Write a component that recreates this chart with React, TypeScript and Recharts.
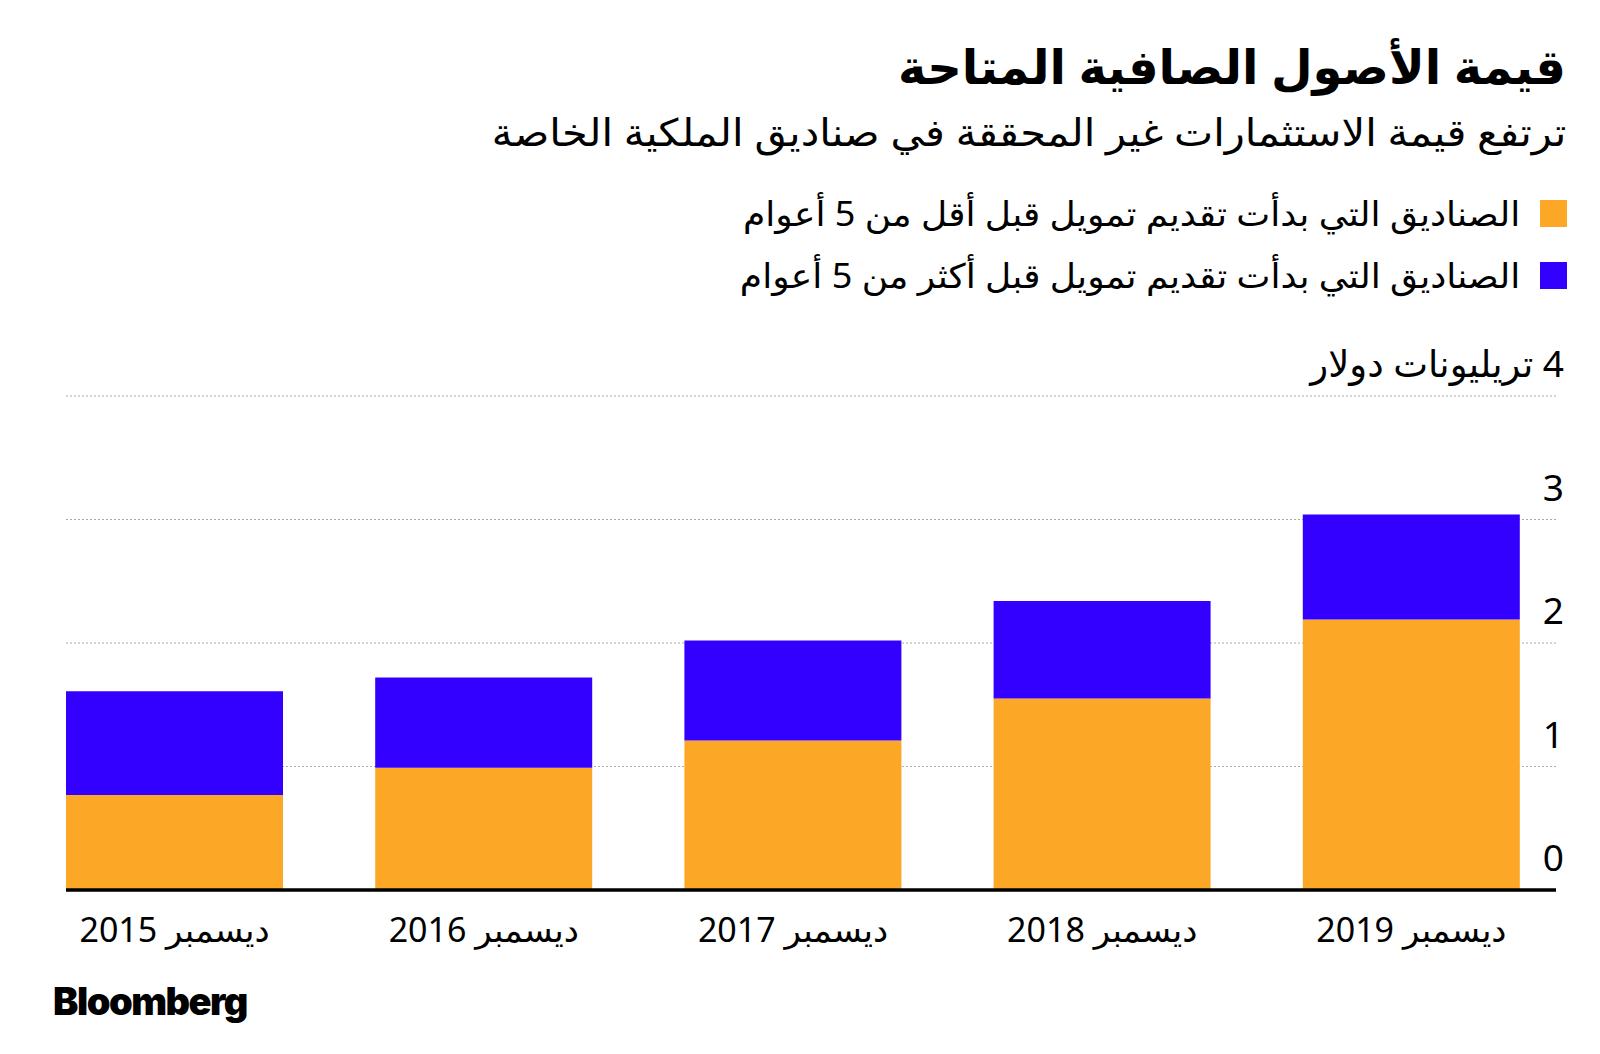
import { Bar, BarChart, CartesianGrid, XAxis, YAxis } from 'recharts';

const categories = ['ديسمبر 2015', 'ديسمبر 2016', 'ديسمبر 2017', 'ديسمبر 2018', 'ديسمبر 2019'];
const youngerFunds = [0.77, 0.99, 1.21, 1.55, 2.19];
const olderFunds = [0.84, 0.73, 0.81, 0.79, 0.85];
const yTicks = [0, 1, 2, 3, 4];

const youngerLabel = 'الصناديق التي بدأت تقديم تمويل قبل أقل من 5 أعوام';
const olderLabel = 'الصناديق التي بدأت تقديم تمويل قبل أكثر من 5 أعوام';
const unitLabel = '4 تريليونات دولار';

const ORANGE = '#FCA826';
const BLUE = '#3300FF';
const FONT = "'Noto Sans', 'DejaVu Sans', sans-serif";

const rows = categories.map((name, i) => ({
  name,
  younger: youngerFunds[i],
  older: olderFunds[i],
}));

function YTick(props: any) {
  const { x, y, payload } = props;
  const text = payload.value === 4 ? '\u200F' + unitLabel : String(payload.value);
  return (
    <text x={x} y={y - 19} textAnchor="end" fontSize={37} fill="#000" fontFamily={FONT}>
      {text}
    </text>
  );
}

function XTick(props: any) {
  const { x, y, payload } = props;
  return (
    <text x={x} y={y + 44} textAnchor="middle" fontSize={34} fill="#000" fontFamily={FONT}>
      {payload.value}
    </text>
  );
}

function LegendRow({ color, label, top }: { color: string; label: string; top: number }) {
  return (
    <div style={{ position: 'absolute', right: 33, top, display: 'flex', flexDirection: 'row-reverse', alignItems: 'center' }}>
      <div style={{ width: 27, height: 27, background: color }} />
      <div dir="rtl" style={{ fontSize: 34, marginRight: 20, lineHeight: '40px', transform: 'scaleX(1.06)', transformOrigin: 'right center' }}>
        {label}
      </div>
    </div>
  );
}

export default function App() {
  return (
    <div style={{ position: 'absolute', left: 0, top: 0, width: 1600, height: 1054, background: '#fff', fontFamily: FONT, color: '#000' }}>
      <div dir="rtl" style={{ position: 'absolute', right: 34, top: 36, fontSize: 48, fontWeight: 900, lineHeight: '60px' }}>
        قيمة الأصول الصافية المتاحة
      </div>
      <div dir="rtl" style={{ position: 'absolute', right: 34, top: 106, fontSize: 38, lineHeight: '50px', transform: 'scaleX(1.094)', transformOrigin: 'right center' }}>
        ترتفع قيمة الاستثمارات غير المحققة في صناديق الملكية الخاصة
      </div>
      <LegendRow color={ORANGE} label={youngerLabel} top={193} />
      <LegendRow color={BLUE} label={olderLabel} top={255} />

      <div style={{ position: 'absolute', left: 0, top: 0 }}>
        <BarChart
          width={1600}
          height={1054}
          data={rows}
          margin={{ top: 396, right: 43, bottom: 104, left: 66 }}
          barCategoryGap={46}
        >
          <CartesianGrid vertical={false} stroke="#aaaaaa" strokeDasharray="2 2" />
          <XAxis
            dataKey="name"
            height={60}
            padding={{ left: -46, right: -10 }}
            tickLine={false}
            axisLine={{ stroke: '#000', strokeWidth: 3.5 }}
            tick={<XTick />}
            interval={0}
          />
          <YAxis
            orientation="right"
            width={1}
            domain={[0, 4]}
            ticks={yTicks}
            tickLine={false}
            axisLine={false}
            tick={<YTick />}
            interval={0}
          />
          <Bar dataKey="younger" stackId="a" fill={ORANGE} isAnimationActive={false} />
          <Bar dataKey="older" stackId="a" fill={BLUE} isAnimationActive={false} />
        </BarChart>
      </div>

      <div style={{ position: 'absolute', left: 53, top: 978, fontSize: 38, fontWeight: 900, letterSpacing: -1.5, fontFamily: 'Inter, Roboto, sans-serif' }}>
        Bloomberg
      </div>
    </div>
  );
}
